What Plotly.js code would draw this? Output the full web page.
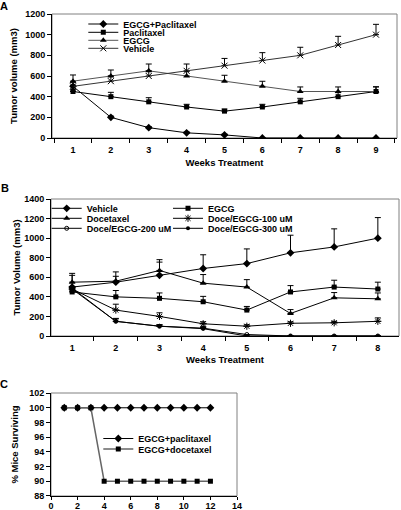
<!DOCTYPE html>
<html>
<head>
<meta charset="utf-8">
<script src="https://cdn.plot.ly/plotly-3.0.1.min.js"></script>
<style>html,body{margin:0;padding:0;background:#fff;}#chart{width:401px;height:510px;}</style>
</head>
<body>
<div id="chart"></div>
<script>
// ---------- Panel A data ----------
const weeksA = [1, 2, 3, 4, 5, 6, 7, 8, 9];
const aEgcgPac = [500, 200, 100, 50, 30, 0, 0, 0, 0];
const aEgcgPacErr = [10, 12, 10, 8, 8, 0, 0, 0, 0];
const aPac = [450, 400, 350, 300, 260, 300, 350, 400, 450];
const aPacErr = [15, 42, 40, 26, 20, 26, 34, 39, 45];
const aEgcg = [550, 600, 650, 600, 550, 500, 450, 450, 450];
const aEgcgErr = [60, 58, 66, 45, 57, 49, 44, 44, 45];
const aVeh = [500, 550, 600, 650, 700, 750, 800, 900, 1000];
const aVehErr = [40, 50, 48, 66, 70, 76, 78, 84, 100];

// ---------- Panel B data ----------
const weeksB = [1, 2, 3, 4, 5, 6, 7, 8];
const bVeh = [500, 550, 620, 690, 740, 850, 910, 1000];
const bVehErr = [140, 60, 160, 140, 150, 180, 185, 210];
const bEgcg = [450, 400, 385, 350, 265, 450, 500, 480];
const bEgcgErr = [20, 65, 55, 55, 37, 65, 70, 70];
const bDoce = [550, 560, 670, 540, 500, 230, 390, 380];
const bDoceErr = [70, 95, 85, 88, 76, 40, 54, 60];
const bD100 = [480, 265, 200, 125, 100, 130, 135, 150];
const bD100Err = [20, 60, 37, 20, 15, 15, 15, 35];
const bD200 = [490, 150, 100, 80, 15, 0, 0, 0];
const bD200Err = [15, 30, 15, 15, 0, 0, 0, 0];
const bD300 = [480, 150, 100, 75, 0, 0, 0, 0];
const bD300Err = [15, 25, 15, 12, 0, 0, 0, 0];

// ---------- Panel C data ----------
const weeksC = [1, 2, 3, 4, 5, 6, 7, 8, 9, 10, 11, 12];
const cPac = [100, 100, 100, 100, 100, 100, 100, 100, 100, 100, 100, 100];
const cDoce = [100, 100, 100, 90, 90, 90, 90, 90, 90, 90, 90, 90];
const cTicksY = [88, 90, 92, 94, 96, 98, 100, 102];
const cTicksX = [0, 2, 4, 6, 8, 10, 12, 14];

const W = 401, H = 510;
const px = v => v / W;
const py = v => 1 - v / H;
const FONT = 'Liberation Sans, Arial, sans-serif';
const f9 = {family: FONT, size: 9, color: '#000', weight: 'bold'};

function err(arr, color) {
  return {type: 'data', symmetric: false, array: arr, arrayminus: arr.map(() => 0),
          color: color || '#000', thickness: 1, width: 3};
}
function tr(x, y, e, name, sym, size, xa, ya, leg, opts) {
  opts = opts || {};
  return {
    x: x, y: y, name: name, type: 'scatter', mode: 'lines+markers',
    xaxis: xa, yaxis: ya, legend: leg, showlegend: true,
    line: {color: opts.lc || '#000', width: opts.lw || 1},
    marker: {symbol: sym, size: size, color: opts.mc || '#000',
             line: {color: '#000', width: opts.mlw || 0}},
    error_y: e ? err(e, opts.ec) : undefined
  };
}

const data = [
  // Panel A
  tr(weeksA, aEgcgPac, aEgcgPacErr, 'EGCG+Paclitaxel', 'diamond', 6, 'x', 'y', 'legend'),
  tr(weeksA, aPac, aPacErr, 'Paclitaxel', 'square', 5, 'x', 'y', 'legend2'),
  tr(weeksA, aEgcg, aEgcgErr, 'EGCG', 'triangle-up', 6, 'x', 'y', 'legend3', {lc: '#555'}),
  tr(weeksA, aVeh, aVehErr, 'Vehicle', 'x-thin-open', 6, 'x', 'y', 'legend4', {lc: '#333', mlw: 1}),
  // Panel B
  tr(weeksB, bVeh, bVehErr, 'Vehicle', 'diamond', 6, 'x2', 'y2', 'legend5'),
  tr(weeksB, bDoce, bDoceErr, 'Docetaxel', 'triangle-up', 6, 'x2', 'y2', 'legend6'),
  tr(weeksB, bD200, bD200Err, 'Doce/EGCG-200 uM', 'circle-open', 4, 'x2', 'y2', 'legend7', {mlw: 1}),
  tr(weeksB, bEgcg, bEgcgErr, 'EGCG', 'square', 5, 'x2', 'y2', 'legend8'),
  tr(weeksB, bD100, bD100Err, 'Doce/EGCG-100 uM', 'asterisk-open', 6, 'x2', 'y2', 'legend9', {mlw: 1}),
  tr(weeksB, bD300, bD300Err, 'Doce/EGCG-300 uM', 'circle', 4, 'x2', 'y2', 'legend10'),
  // Panel C
  tr(weeksC, cPac, null, 'EGCG+paclitaxel', 'diamond', 6, 'x3', 'y3', 'legend11'),
  tr(weeksC, cDoce, null, 'EGCG+docetaxel', 'square', 5, 'x3', 'y3', 'legend12', {lc: '#666', lw: 1.5})
];

function leg(textX, rowY) {
  return {x: px(textX - 40), y: py(rowY), xanchor: 'left', yanchor: 'middle',
          bgcolor: 'rgba(0,0,0,0)', borderwidth: 0, font: f9, itemwidth: 30,
          tracegroupgap: 0, visible: true};
}
function yax(dom, xa, range, dtick, title, standoff) {
  return {domain: dom, anchor: xa, range: range, dtick: dtick, showgrid: false, zeroline: false,
          showline: true, linecolor: '#000', linewidth: 1, ticks: 'outside', ticklen: 4,
          tickcolor: '#000', tickwidth: 1, tickfont: f9, fixedrange: true,
          title: {text: title, font: {family: FONT, size: 9.5, color: '#000', weight: 'bold'}, standoff: standoff}};
}
function xcat(dom, ya, title, standoff) {
  return {domain: dom, anchor: ya, type: 'category', tickson: 'boundaries', showgrid: false,
          zeroline: false, showline: true, linecolor: '#000', linewidth: 1, ticks: 'outside',
          ticklen: 4, tickcolor: '#000', tickwidth: 1, tickfont: f9, ticklabelstandoff: 3,
          fixedrange: true,
          title: {text: title, font: {family: FONT, size: 9.5, color: '#000', weight: 'bold'}, standoff: standoff}};
}

const yC = yax([py(496), py(393)], 'x3', [87.99, 102.01], 2, '% Mice Surviving', 8);
yC.tickmode = 'array';
yC.tickvals = cTicksY;

const layout = {
  width: W, height: H, margin: {l: 0, r: 0, t: 0, b: 0},
  paper_bgcolor: '#fff', plot_bgcolor: '#fff', showlegend: true,
  font: {family: FONT, color: '#000'},
  xaxis: xcat([px(52), px(397)], 'y', 'Weeks Treatment', 5),
  yaxis: yax([py(138), py(14)], 'x', [0, 1200], 200, 'Tumor volume (mm3)', 5),
  xaxis2: xcat([px(51), px(399)], 'y2', 'Weeks Treatment', 4),
  yaxis2: yax([py(336), py(199)], 'x2', [0, 1400], 200, 'Tumor Volume (mm3)', 1),
  xaxis3: {domain: [px(51), px(237)], anchor: 'y3', range: [0, 14], tickmode: 'array', tickvals: cTicksX,
           showgrid: false, zeroline: false, showline: true, linecolor: '#000', linewidth: 1,
           ticks: 'outside', ticklen: 3, tickcolor: '#000', tickfont: f9, ticklabelstandoff: -2,
           fixedrange: true},
  yaxis3: yC,
  legend: leg(123.3, 24),
  legend2: leg(123.3, 32.3),
  legend3: leg(123.3, 40.3),
  legend4: leg(123.3, 48.3),
  legend5: leg(86.7, 208.3),
  legend6: leg(86.7, 218.3),
  legend7: leg(86.7, 228.3),
  legend8: leg(208, 208.3),
  legend9: leg(208, 218.3),
  legend10: leg(208, 228.3),
  legend11: leg(138.3, 438.5),
  legend12: leg(138.3, 449),
  shapes: [
    {type: 'rect', xref: 'x domain', yref: 'y domain', x0: 0, x1: 1, y0: 0, y1: 1, line: {color: '#808080', width: 1}, layer: 'below'},
    {type: 'rect', xref: 'x2 domain', yref: 'y2 domain', x0: 0, x1: 1, y0: 0, y1: 1, line: {color: '#808080', width: 1}, layer: 'below'},
    {type: 'rect', xref: 'x3 domain', yref: 'y3 domain', x0: 0, x1: 1, y0: 0, y1: 1, line: {color: '#808080', width: 1}, layer: 'below'}
  ],
  annotations: [
    {text: 'A', xref: 'paper', yref: 'paper', x: px(4), y: py(6), showarrow: false, xanchor: 'center', yanchor: 'middle', font: {family: FONT, size: 11, weight: 'bold', color: '#000'}},
    {text: 'B', xref: 'paper', yref: 'paper', x: px(5), y: py(188), showarrow: false, xanchor: 'center', yanchor: 'middle', font: {family: FONT, size: 11, weight: 'bold', color: '#000'}},
    {text: 'C', xref: 'paper', yref: 'paper', x: px(4), y: py(384), showarrow: false, xanchor: 'center', yanchor: 'middle', font: {family: FONT, size: 11, weight: 'bold', color: '#000'}}
  ]
};

Plotly.newPlot('chart', data, layout, {displayModeBar: false, staticPlot: true});
</script>
</body>
</html>
